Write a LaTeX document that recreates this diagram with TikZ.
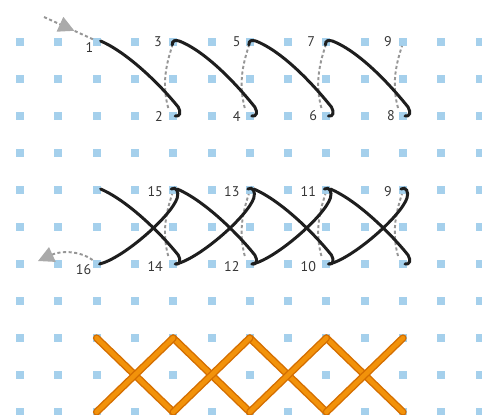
\documentclass[tikz,border=0pt]{standalone}
\usepackage{fontspec}
\setmainfont{PT Sans}
\usetikzlibrary{arrows.meta,positioning,calc,decorations.markings}

\definecolor{dotblue}{RGB}{165,208,236}
\definecolor{threadblack}{RGB}{30,30,30}
\definecolor{backgrey}{RGB}{150,150,150}
\definecolor{arrowgrey}{RGB}{170,170,170}
\definecolor{labelgrey}{RGB}{55,55,55}
\definecolor{orangefill}{RGB}{242,146,10}
\definecolor{orangeedge}{RGB}{212,110,0}

\begin{document}
\begin{tikzpicture}[x=0.02cm, y=-0.02cm,
    gdot/.style={fill=dotblue},
    thread/.style={draw=threadblack, line width=1.7pt, line cap=round},
    backthread/.style={draw=backgrey, line width=1.1pt, dash pattern=on 1.8pt off 1.4pt},
    holelabel/.style={font=\fontsize{8}{9}\selectfont, text=labelgrey, inner sep=0pt},
    crossline/.style={draw=orangeedge, line width=0.8pt, double=orangefill, double distance=2.6pt, line cap=round},
    tip/.style={-{Triangle[length=9pt, width=9pt, color=arrowgrey]}},
    fwdstart/.style={to path={
        ($(\tikztostart)+(4,-1)$) .. controls ($(\tikztostart)+(32,11)$) and ($(\tikztotarget)+(-11,-29)$) .. ($(\tikztotarget)+(5,-9)$)
        .. controls ($(\tikztotarget)+(8,-4)$) and ($(\tikztotarget)+(7,1)$) .. ($(\tikztotarget)+(2,0)$)}},
    fwd/.style={to path={
        ($(\tikztostart)+(-1,3)$) .. controls ($(\tikztostart)+(-1,-2)$) and ($(\tikztostart)+(2,-2)$) .. ($(\tikztostart)+(6,-1)$)
        .. controls ($(\tikztostart)+(34,10)$) and ($(\tikztotarget)+(-11,-29)$) .. ($(\tikztotarget)+(5,-9)$)
        .. controls ($(\tikztotarget)+(8,-4)$) and ($(\tikztotarget)+(7,1)$) .. ($(\tikztotarget)+(2,0)$)}},
    ret/.style={to path={
        ($(\tikztostart)+(-2,-1)$) .. controls ($(\tikztostart)+(3,-4)$) and ($(\tikztostart)+(6,2)$) .. ($(\tikztostart)+(4,8)$)
        .. controls ($(\tikztostart)+(-2,26)$) and ($(\tikztotarget)+(27,-6)$) .. ($(\tikztotarget)+(3,0)$)}},
    under/.style={to path={
        ($(\tikztostart)+(-5,-8)$) .. controls ($(\tikztostart)+(-11,-30)$) and ($(\tikztotarget)+(-8,25)$) .. ($(\tikztotarget)+(-1,4)$)}}]

    \useasboundingbox (0,0) rectangle (482,414);

    % Grid of holes
    \foreach \c in {0,...,12} {
        \foreach \r in {0,...,10} {
            \fill[gdot] ({20+38.3*\c-4},{42+37*\r-4}) rectangle +(8,8);
        }
    }

    % Holes, first pass
    \coordinate (t1) at (96.6,42);
    \coordinate (t2) at (173.2,116);
    \coordinate (t3) at (173.2,42);
    \coordinate (t4) at (249.8,116);
    \coordinate (t5) at (249.8,42);
    \coordinate (t6) at (326.4,116);
    \coordinate (t7) at (326.4,42);
    \coordinate (t8) at (403,116);
    \coordinate (t9) at (403,42);

    % Holes, both passes
    \coordinate (m0) at (96.6,190);
    \coordinate (m15) at (173.2,190);
    \coordinate (m13) at (249.8,190);
    \coordinate (m11) at (326.4,190);
    \coordinate (m9) at (403,190);
    \coordinate (m16) at (96.6,264);
    \coordinate (m14) at (173.2,264);
    \coordinate (m12) at (249.8,264);
    \coordinate (m10) at (326.4,264);
    \coordinate (m8) at (403,264);

    % Holes, finished row
    \foreach \i/\x in {1/96.6, 2/173.2, 3/249.8, 4/326.4, 5/403} {
        \coordinate (o\i) at (\x,338);
        \coordinate (u\i) at (\x,412);
    }

    % Hole numbers
    \node[holelabel, anchor=north east] (l1) at ($(t1)+(-3,0)$) {1};
    \node[holelabel, left=0.2cm of t2] (l2) {2};
    \node[holelabel, left=0.22cm of t3] (l3) {3};
    \node[holelabel, left=0.18cm of t4] (l4) {4};
    \node[holelabel, left=0.18cm of t5] (l5) {5};
    \node[holelabel, left=0.18cm of t6] (l6) {6};
    \node[holelabel, left=0.22cm of t7] (l7) {7};
    \node[holelabel, left=0.16cm of t8] (l8) {8};
    \node[holelabel, left=0.22cm of t9] (l9) {9};

    \node[holelabel, left=0.22cm of m9, yshift=-0.03cm] (n9) {9};
    \node[holelabel, left=0.2cm of m10, yshift=-0.05cm] (n10) {10};
    \node[holelabel, left=0.2cm of m11, yshift=-0.03cm] (n11) {11};
    \node[holelabel, left=0.2cm of m12, yshift=-0.05cm] (n12) {12};
    \node[holelabel, left=0.2cm of m13, yshift=-0.03cm] (n13) {13};
    \node[holelabel, left=0.2cm of m14, yshift=-0.05cm] (n14) {14};
    \node[holelabel, left=0.2cm of m15, yshift=-0.03cm] (n15) {15};
    \node[holelabel, anchor=north east] (n16) at ($(m16)+(-5,0)$) {16};

    % First pass: threads on the back
    \draw[backthread] (t2) to[under] (t3);
    \draw[backthread] (t4) to[under] (t5);
    \draw[backthread] (t6) to[under] (t7);
    \draw[backthread] (t8) to[under] (t9);

    % First pass: threads on the front
    \coordinate (in1) at (44,17);
    \draw[backthread, postaction={decorate},
        decoration={markings, mark=at position 0.6 with {\arrow{Triangle[length=9pt, width=9pt, color=arrowgrey]}}}]
        (in1) -- ($(t1)+(-2,-2)$);
    \draw[thread] (t1) to[fwdstart] (t2);
    \draw[thread] (t3) to[fwd] (t4);
    \draw[thread] (t5) to[fwd] (t6);
    \draw[thread] (t7) to[fwd] (t8);

    % Second row: threads on the back
    \draw[backthread] (m14) to[under] (m15);
    \draw[backthread] (m12) to[under] (m13);
    \draw[backthread] (m10) to[under] (m11);
    \draw[backthread] (m8) to[under] (m9);

    % Second row: going out, then coming back
    \draw[thread] (m0) to[fwdstart] (m14);
    \draw[thread] (m15) to[fwdstart] (m12);
    \draw[thread] (m13) to[fwdstart] (m10);
    \draw[thread] (m11) to[fwdstart] (m8);
    \draw[thread] (m9) to[ret] (m10);
    \draw[thread] (m11) to[ret] (m12);
    \draw[thread] (m13) to[ret] (m14);
    \draw[thread] (m15) to[ret] (m16);

    \coordinate (out16) at (38,261);
    \draw[backthread, tip] ($(m16)+(-4,-4)$) .. controls ($(m16)+(-18,-14)$) and ($(out16)+(22,-10)$) .. (out16);

    % Finished row
    \foreach \i/\j in {1/2, 2/3, 3/4, 4/5} {
        \draw[crossline] (o\i) -- (u\j);
    }
    \foreach \i/\j in {1/2, 2/3, 3/4, 4/5} {
        \draw[crossline] (u\i) -- (o\j);
    }

\end{tikzpicture}
\end{document}
